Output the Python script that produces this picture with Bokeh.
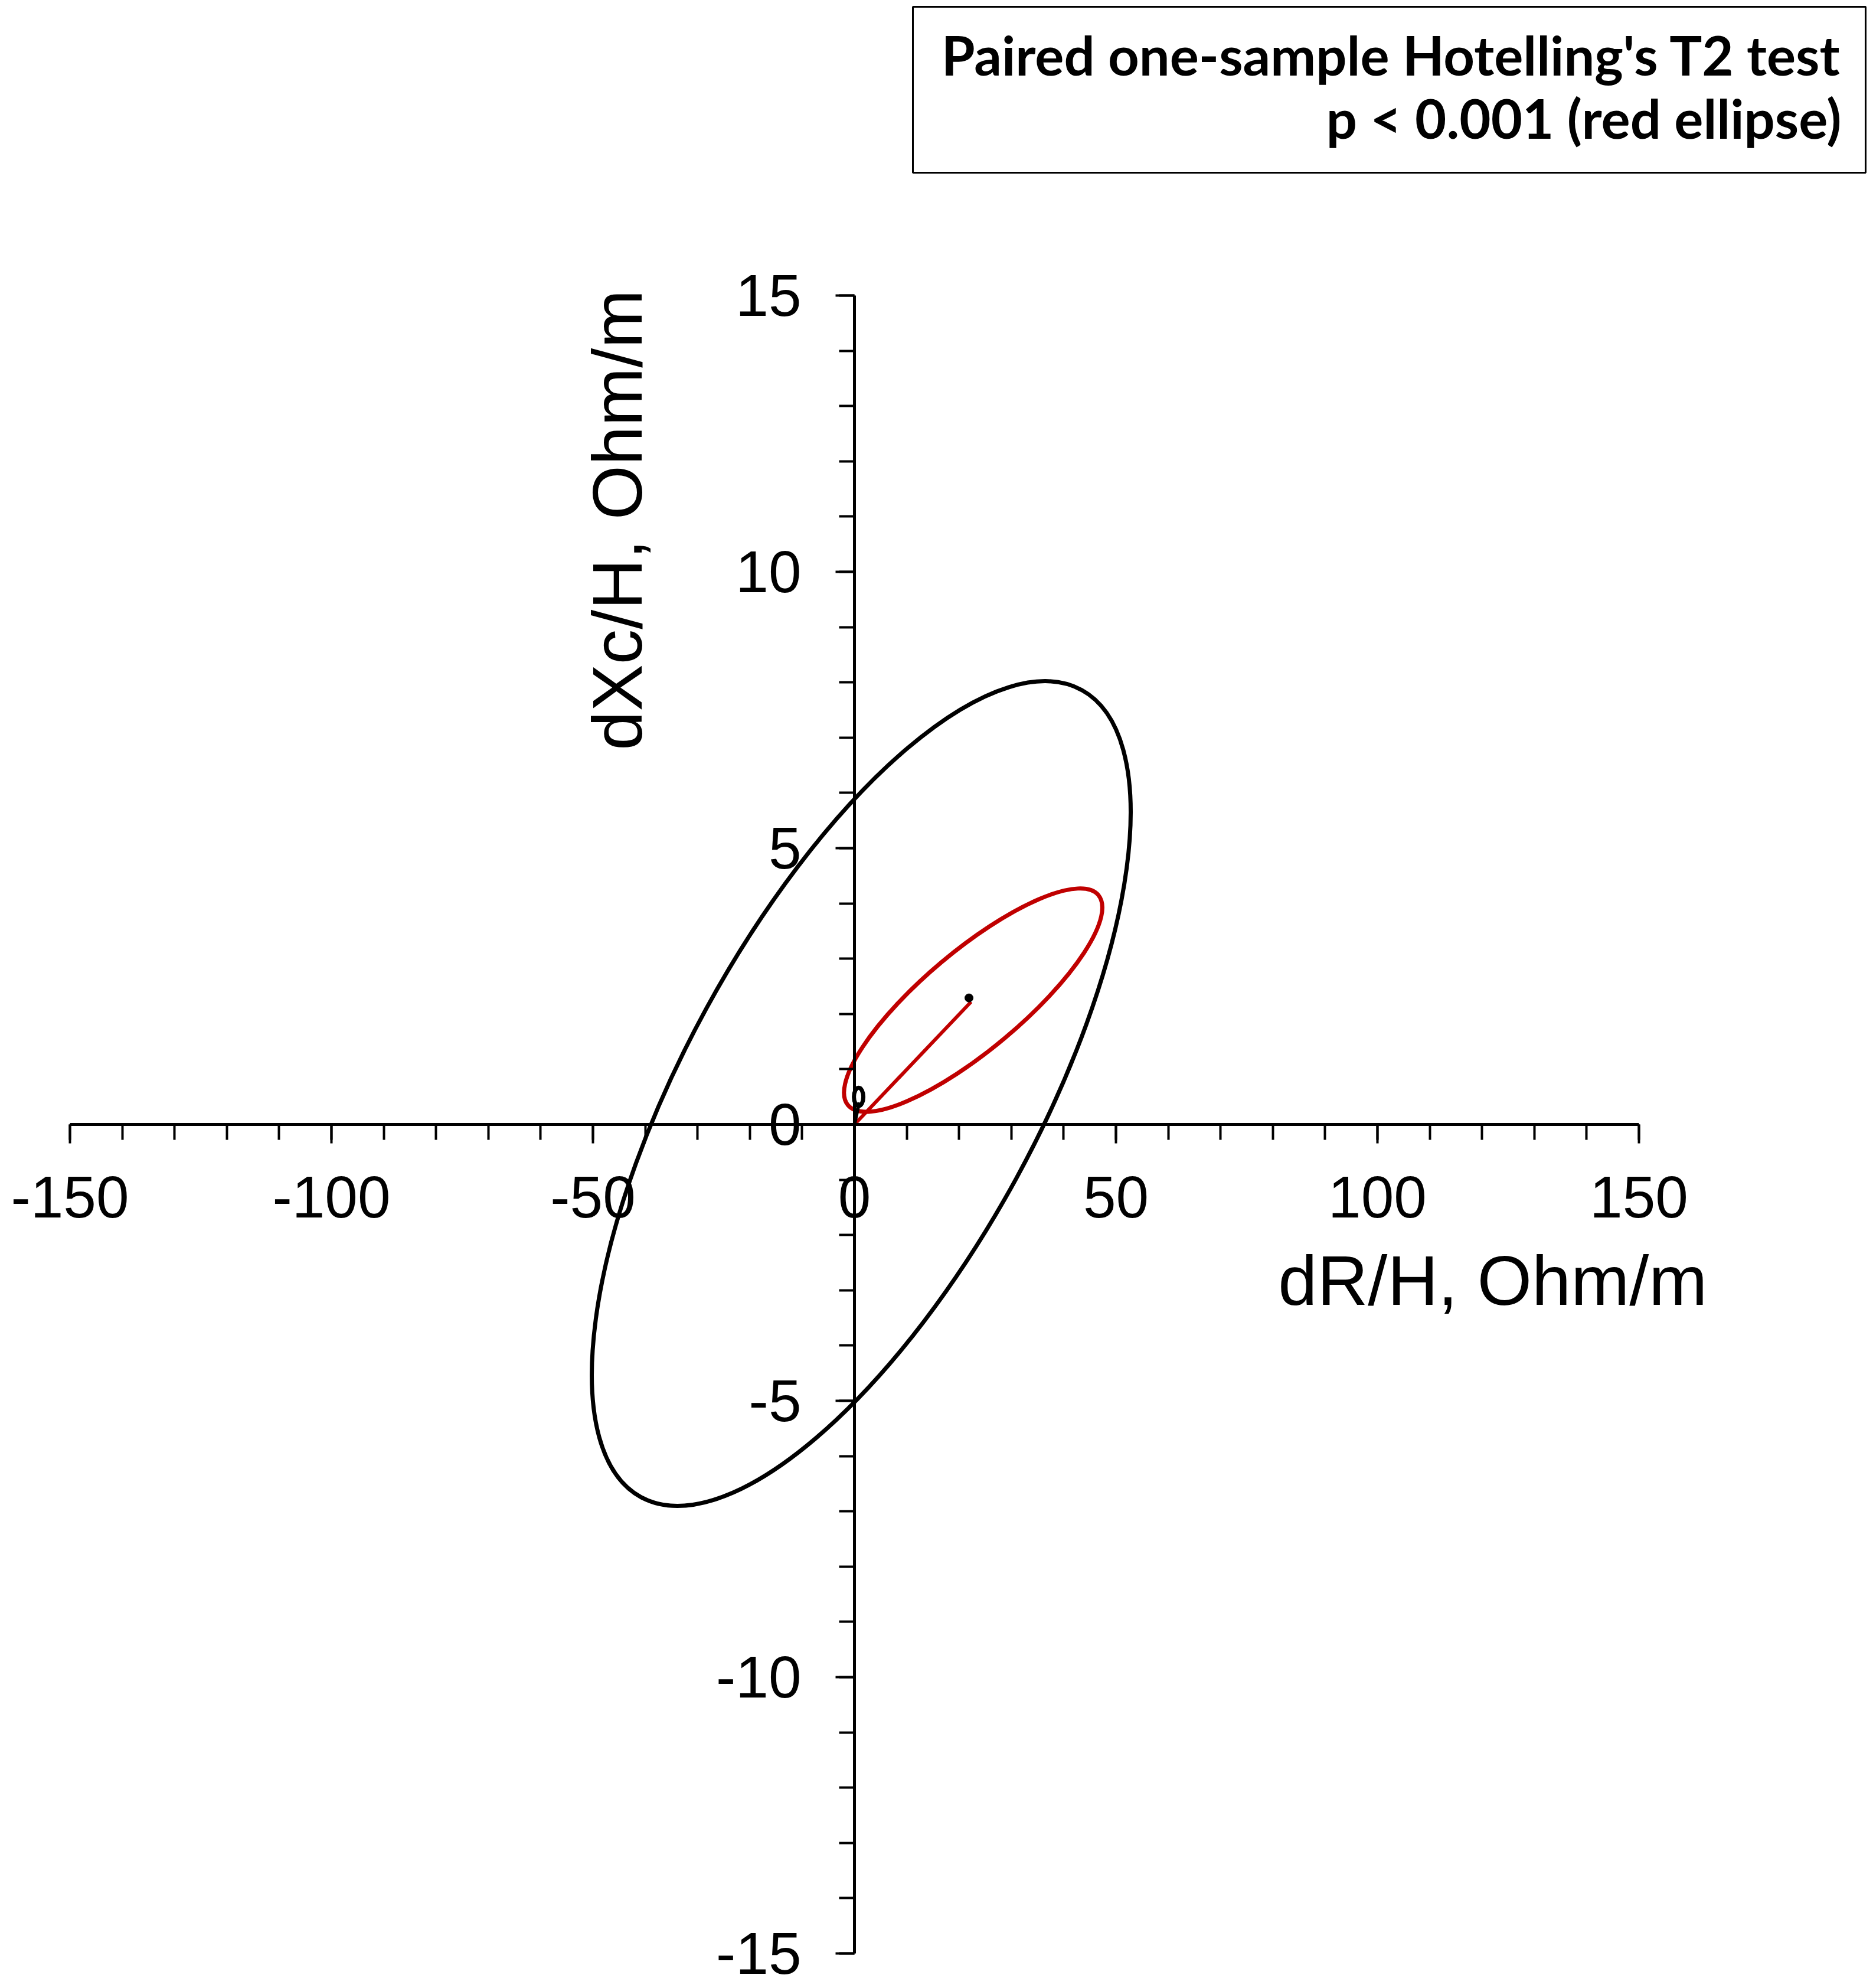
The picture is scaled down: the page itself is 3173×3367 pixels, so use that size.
import math
from bokeh.plotting import figure
from bokeh.models import (Range1d, SingleIntervalTicker, Label, BoxAnnotation,
                          ColumnDataSource, PrintfTickFormatter)
from bokeh.embed import file_html
from bokeh.resources import INLINE

# ---------------- data ----------------
x_ticks_major = 50
y_ticks_major = 5
x_limits = [-150, 150]
y_limits = [-15, 15]

# ellipses: center, full width (along rotated axis, x units), full height (y units), angle (rad)
ellipse_x = [1.3, 22.7, 0.8]
ellipse_y = [0.56, 2.25, 0.50]
ellipse_w = [175.8, 62.5, 1.8]
ellipse_h = [6.40, 1.79, 0.33]
ellipse_angle = [1.071, 0.698, 0.0]

# mean vectors drawn from origin
vector_x0 = [0.0, 0.0]
vector_y0 = [0.0, 0.0]
vector_x1 = [22.3, 0.9]
vector_y1 = [2.22, 0.40]

# mean point
mean_x = [21.9]
mean_y = [2.29]

box_lines = ["Paired one-sample Hotelling's T2 test", "p < 0.001 (red ellipse)"]
x_title = "dR/H, Ohm/m"
y_title = "dXc/H, Ohm/m"

# ---------------- layout ----------------
W, H = 3173, 3367
frame_left_px = 118      # canvas px of x = -150
frame_top_px = 500       # canvas px of y = 15
KX = 2658 / 300.0
KY = 2808 / 30.0

x_range = Range1d(x_limits[0] - frame_left_px / KX, x_limits[0] + (W - frame_left_px) / KX)
y_range = Range1d(y_limits[1] - (H - frame_top_px) / KY, y_limits[1] + frame_top_px / KY)

p = figure(width=W, height=H, x_range=x_range, y_range=y_range,
           output_backend="svg", toolbar_location=None, min_border=0)
p.min_border_left = p.min_border_right = p.min_border_top = p.min_border_bottom = 0
p.outline_line_color = None
p.grid.visible = False
p.background_fill_color = "white"
p.border_fill_color = "white"

RED = "#C00000"
ell_colors = ["black", RED, "black"]

src = ColumnDataSource(dict(x=ellipse_x, y=ellipse_y, w=ellipse_w, h=ellipse_h,
                            a=ellipse_angle, c=ell_colors))
p.ellipse(x="x", y="y", width="w", height="h", angle="a", source=src,
          fill_color=None, line_color="c", line_width=7)

vsrc = ColumnDataSource(dict(x0=vector_x0, y0=vector_y0, x1=vector_x1, y1=vector_y1,
                             c=[RED, "black"]))
p.segment(x0="x0", y0="y0", x1="x1", y1="y1", source=vsrc, line_color="c", line_width=6)

p.scatter(mean_x, mean_y, size=14, color="black")

# axes crossing at origin
for ax, interval, bounds in ((p.xaxis[0], x_ticks_major, x_limits), (p.yaxis[0], y_ticks_major, y_limits)):
    ax.fixed_location = 0
    ax.bounds = tuple(bounds)
    ax.ticker = SingleIntervalTicker(interval=interval, num_minor_ticks=5)
    ax.formatter = PrintfTickFormatter(format="%d")
    ax.axis_line_color = "black"
    ax.axis_line_width = 5
    ax.major_tick_line_color = "black"
    ax.major_tick_line_width = 4
    ax.minor_tick_line_color = "black"
    ax.minor_tick_line_width = 4
    ax.major_tick_in = 0
    ax.major_tick_out = 32
    ax.minor_tick_in = 0
    ax.minor_tick_out = 26
    ax.major_label_text_font = "Liberation Sans"
    ax.major_label_text_font_size = "100px"
    ax.major_label_text_color = "black"

p.xaxis[0].major_label_standoff = 56
p.yaxis[0].major_label_standoff = 58

# axis titles (screen coords measured from bottom-left of canvas)
TITLE_SIZE = 119
p.add_layout(Label(x=2892, y=H - 2168, x_units="screen", y_units="screen", text=x_title,
                   text_align="right", text_baseline="alphabetic",
                   text_font="Liberation Sans", text_font_size=f"{TITLE_SIZE}px", text_color="black"))
p.add_layout(Label(x=1045, y=H - 490, x_units="screen", y_units="screen", text=y_title,
                   angle=math.pi / 2, text_align="right", text_baseline="alphabetic",
                   text_font="Liberation Sans", text_font_size=f"{TITLE_SIZE}px", text_color="black"))

# annotation box
p.add_layout(BoxAnnotation(left=1546, right=3160, bottom=H - 292, top=H - 11,
                           left_units="screen", right_units="screen",
                           bottom_units="screen", top_units="screen",
                           fill_color="white", fill_alpha=1.0,
                           line_color="black", line_width=3, line_alpha=1.0))
for txt, base in zip(box_lines, [92, 199]):
    p.add_layout(Label(x=3119, y=H - base, x_units="screen", y_units="screen", text=txt,
                       text_align="right", text_baseline="alphabetic",
                       text_font="Lato", text_font_style="bold",
                       text_font_size="92px", text_color="black"))

open("out.html", "w").write(file_html(p, INLINE))
